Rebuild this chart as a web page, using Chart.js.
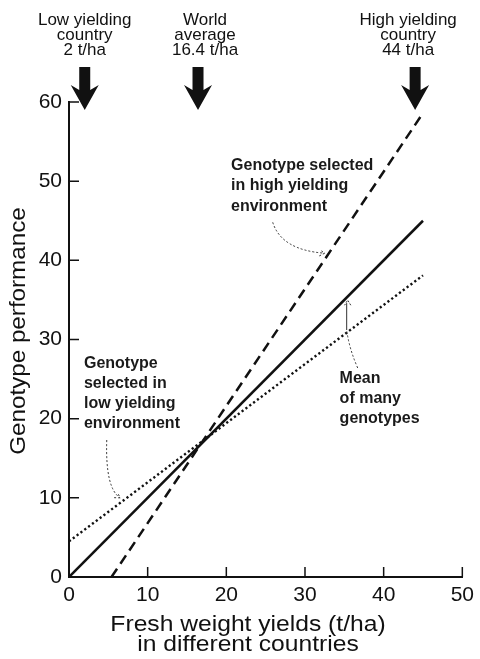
<!DOCTYPE html>
<html>
<head>
<meta charset="utf-8">
<script src="https://cdn.jsdelivr.net/npm/chart.js@4.4.1/dist/chart.umd.min.js"></script>
<style>
  html, body { margin: 0; padding: 0; background: #fff; }
</style>
</head>
<body>
<canvas id="yieldChart" width="480" height="659"></canvas>
<script>
// genotype performance against fresh weight yield of the country
var meanX = [0, 45];
var meanY = [0, 45];
var highX = [5.4, 45];
var highY = [0, 58.6];
var lowX = [0, 45];
var lowY = [4.5, 38.1];

// reference yields marked above the plot (t/ha)
var countryYield = [2, 16.4, 44];
var countryLabels = [
  ['Low yielding', 'country', '2 t/ha'],
  ['World', 'average', '16.4 t/ha'],
  ['High yielding', 'country', '44 t/ha']
];

var xTicks = [0, 10, 20, 30, 40, 50];
var yTicks = [0, 10, 20, 30, 40, 50, 60];

var FONT = '"Liberation Sans", Arial, Helvetica, sans-serif';
var INK = '#111';

function toPoints(xs, ys) {
  return xs.map(function (x, i) { return { x: x, y: ys[i] }; });
}

function stretchText(ctx, text, x, y, sx) {
  ctx.save();
  ctx.translate(x, y);
  ctx.scale(sx, 1);
  ctx.fillText(text, 0, 0);
  ctx.restore();
}

function chevron(ctx, x, y, ang, size) {
  ctx.beginPath();
  ctx.moveTo(x + Math.cos(ang + 2.6) * size, y + Math.sin(ang + 2.6) * size);
  ctx.lineTo(x, y);
  ctx.lineTo(x + Math.cos(ang - 2.6) * size, y + Math.sin(ang - 2.6) * size);
  ctx.stroke();
}

var decorations = {
  id: 'decorations',
  afterDraw: function (chart) {
    var ctx = chart.ctx;
    var xs = chart.scales.x, ys = chart.scales.y;
    var top = chart.chartArea.top, bottom = chart.chartArea.bottom, left = chart.chartArea.left;
    function P(x, y) { return [xs.getPixelForValue(x), ys.getPixelForValue(y)]; }

    ctx.save();

    // tick marks point into the plot
    ctx.strokeStyle = INK;
    ctx.lineWidth = 1.5;
    ctx.beginPath();
    xTicks.forEach(function (v) {
      if (v === 0) return;
      var px = xs.getPixelForValue(v);
      ctx.moveTo(px, bottom);
      ctx.lineTo(px, bottom - 10);
    });
    yTicks.forEach(function (v) {
      if (v === 0) return;
      var py = ys.getPixelForValue(v);
      ctx.moveTo(left, py);
      ctx.lineTo(left + 10, py);
    });
    ctx.stroke();

    // big arrows and captions above the plot
    var nudge = [0, 7, -7];
    countryYield.forEach(function (v, i) {
      var cx = xs.getPixelForValue(v);
      ctx.fillStyle = INK;
      ctx.beginPath();
      ctx.moveTo(cx - 5.5, top - 35);
      ctx.lineTo(cx - 5.5, top - 12);
      ctx.lineTo(cx - 14, top - 17);
      ctx.lineTo(cx, top + 8);
      ctx.lineTo(cx + 14, top - 17);
      ctx.lineTo(cx + 5.5, top - 12);
      ctx.lineTo(cx + 5.5, top - 35);
      ctx.closePath();
      ctx.fill();

      ctx.font = '17px ' + FONT;
      ctx.textAlign = 'center';
      ctx.textBaseline = 'alphabetic';
      countryLabels[i].forEach(function (s, k) {
        ctx.fillText(s, cx + nudge[i], top - 77 + k * 15);
      });
    });

    // axis titles
    ctx.fillStyle = INK;
    ctx.font = '22px ' + FONT;
    ctx.textAlign = 'center';
    ctx.textBaseline = 'alphabetic';
    stretchText(ctx, 'Fresh weight yields (t/ha)', 248, bottom + 54, 1.12);
    stretchText(ctx, 'in different countries', 248, bottom + 74, 1.12);

    ctx.save();
    ctx.translate(25, 331);
    ctx.rotate(-Math.PI / 2);
    stretchText(ctx, 'Genotype performance', 0, 0, 1.1);
    ctx.restore();

    // line annotations
    var notes = [
      { lines: ['Genotype selected', 'in high yielding', 'environment'], at: [20.6, 52.0], lead: 20.5 },
      { lines: ['Genotype', 'selected in', 'low yielding', 'environment'], at: [1.9, 27.0], lead: 20 },
      { lines: ['Mean', 'of many', 'genotypes'], at: [34.4, 25.1], lead: 20 }
    ];
    ctx.font = 'bold 16px ' + FONT;
    ctx.textAlign = 'left';
    ctx.textBaseline = 'middle';
    ctx.fillStyle = '#1a1a1a';
    notes.forEach(function (n) {
      var p = P(n.at[0], n.at[1]);
      n.lines.forEach(function (s, k) { ctx.fillText(s, p[0], p[1] + k * n.lead); });
    });

    // curved pointers from the annotations to the lines
    var pointers = [
      [[25.9, 44.8], [27.0, 41.3], [32.5, 40.9]],
      [[4.8, 17.3], [4.6, 11.2], [6.5, 10.0]],
      [[36.7, 26.4], [35.6, 28.9], [35.3, 31.2]]
    ];
    ctx.strokeStyle = '#333';
    ctx.lineWidth = 1;
    pointers.forEach(function (c, i) {
      var a = P(c[0][0], c[0][1]), b = P(c[1][0], c[1][1]), e = P(c[2][0], c[2][1]);
      ctx.setLineDash([2, 2]);
      ctx.beginPath();
      ctx.moveTo(a[0], a[1]);
      ctx.quadraticCurveTo(b[0], b[1], e[0], e[1]);
      ctx.stroke();
      if (i < 2) {
        chevron(ctx, e[0], e[1], Math.atan2(e[1] - b[1], e[0] - b[0]), 6);
      }
    });
    // straight stem of the "mean" pointer
    ctx.setLineDash([]);
    var s0 = P(35.3, 31.2), s1 = P(35.3, 34.6);
    ctx.beginPath();
    ctx.moveTo(s0[0], s0[1]);
    ctx.lineTo(s1[0], s1[1]);
    ctx.stroke();
    ctx.setLineDash([2, 1.5]);
    chevron(ctx, s1[0] + 1, s1[1] - 3, -Math.PI / 2, 6);

    ctx.restore();
  }
};

new Chart(document.getElementById('yieldChart'), {
  type: 'scatter',
  data: {
    datasets: [
      {
        label: 'Mean of many genotypes',
        data: toPoints(meanX, meanY),
        showLine: true,
        borderColor: INK,
        borderWidth: 2.5,
        pointRadius: 0
      },
      {
        label: 'Genotype selected in high yielding environment',
        data: toPoints(highX, highY),
        showLine: true,
        borderColor: INK,
        borderWidth: 2.5,
        borderDash: [10, 6],
        pointRadius: 0
      },
      {
        label: 'Genotype selected in low yielding environment',
        data: toPoints(lowX, lowY),
        showLine: true,
        borderColor: INK,
        borderWidth: 2.4,
        borderDash: [2.2, 2.6],
        pointRadius: 0
      }
    ]
  },
  options: {
    responsive: false,
    animation: false,
    layout: { padding: { top: 102, right: 13, left: 0, bottom: 0 } },
    plugins: { legend: { display: false }, tooltip: { enabled: false } },
    scales: {
      x: {
        type: 'linear',
        min: 0,
        max: 50,
        afterBuildTicks: function (s) { s.ticks = xTicks.map(function (v) { return { value: v }; }); },
        afterFit: function (s) { s.height = 82; },
        grid: { display: true, drawOnChartArea: false, drawTicks: false },
        border: { display: true, color: INK, width: 2 },
        ticks: { color: INK, padding: 6, font: { size: 21, family: FONT } }
      },
      y: {
        type: 'linear',
        min: 0,
        max: 60,
        afterBuildTicks: function (s) { s.ticks = yTicks.map(function (v) { return { value: v }; }); },
        afterFit: function (s) { s.width = 69; },
        grid: { display: true, drawOnChartArea: false, drawTicks: false },
        border: { display: true, color: INK, width: 2 },
        ticks: { color: INK, padding: 7, font: { size: 21, family: FONT } }
      }
    }
  },
  plugins: [decorations]
});
</script>
</body>
</html>
